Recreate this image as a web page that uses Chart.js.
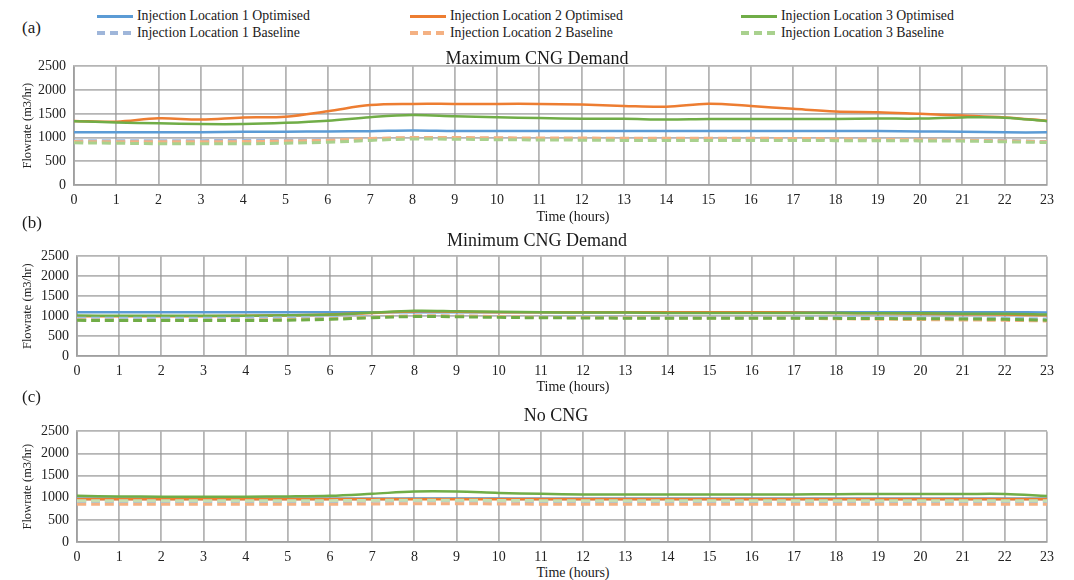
<!DOCTYPE html>
<html>
<head>
<meta charset="utf-8">
<title>Flowrate by injection location</title>
<script src="https://cdn.jsdelivr.net/npm/chart.js@4.4.1/dist/chart.umd.min.js"></script>
<style>
  body {
    margin: 0;
    width: 1074px;
    height: 580px;
    background: #fff;
    position: relative;
    overflow: hidden;
    font-family: "Liberation Serif", "Times New Roman", serif;
    color: #1a1a1a;
  }
  .txt { position: absolute; white-space: nowrap; line-height: 1; z-index: 2; }
  .panel-title { font-size: 18px; transform: translateX(-50%); }
  .tag { font-size: 17px; }
  .xtitle { font-size: 14px; transform: translateX(-50%); }
  canvas { position: absolute; left: 0; }
  #legend { position: absolute; left: 0; top: 0; width: 1074px; height: 45px; z-index: 2; }
  .leg { position: absolute; display: flex; align-items: center; font-size: 13.8px; white-space: nowrap; width: max-content; }
  .swatch { width: 36px; height: 3px; margin-right: 4px; flex: none; }
</style>
</head>
<body>

<div class="txt tag" style="left:22px;top:19px;">(a)</div>
<div class="txt tag" style="left:22px;top:214px;">(b)</div>
<div class="txt tag" style="left:22px;top:388px;">(c)</div>

<div class="txt panel-title" style="left:537px;top:49px;">Maximum CNG Demand</div>
<div class="txt panel-title" style="left:537px;top:231px;">Minimum CNG Demand</div>
<div class="txt panel-title" style="left:556px;top:406px;">No CNG</div>

<div class="txt xtitle" style="left:573px;top:210px;">Time (hours)</div>
<div class="txt xtitle" style="left:573px;top:380px;">Time (hours)</div>
<div class="txt xtitle" style="left:573px;top:566px;">Time (hours)</div>

<div id="legend"></div>

<canvas id="chartMax" width="1074" height="165" style="top:50px;"></canvas>
<canvas id="chartMin" width="1074" height="140" style="top:240px;"></canvas>
<canvas id="chartNone" width="1074" height="150" style="top:415px;"></canvas>

<script>
const hours = ["0", "1", "2", "3", "4", "5", "6", "7", "8", "9", "10", "11",
               "12", "13", "14", "15", "16", "17", "18", "19", "20", "21", "22", "23"];
const yTicks = [0, 500, 1000, 1500, 2000, 2500];

const seriesNames = [
  "Injection Location 1 Optimised",
  "Injection Location 2 Optimised",
  "Injection Location 3 Optimised",
  "Injection Location 1 Baseline",
  "Injection Location 2 Baseline",
  "Injection Location 3 Baseline"
];

// Maximum CNG demand (m3/hr)
const maxOpt1  = [1110, 1110, 1110, 1110, 1120, 1125, 1130, 1135, 1150, 1140, 1140, 1140, 1140, 1140, 1140, 1140, 1140, 1140, 1140, 1140, 1130, 1125, 1110, 1110];
const maxOpt2  = [1350, 1335, 1405, 1380, 1425, 1440, 1555, 1685, 1710, 1710, 1710, 1710, 1695, 1665, 1650, 1715, 1665, 1605, 1550, 1535, 1500, 1465, 1425, 1355];
const maxOpt3  = [1345, 1320, 1300, 1285, 1285, 1310, 1355, 1430, 1475, 1450, 1430, 1410, 1395, 1395, 1380, 1390, 1390, 1390, 1390, 1400, 1400, 1425, 1420, 1345];
const maxBase1 = [930, 935, 935, 935, 940, 945, 955, 975, 990, 990, 985, 980, 980, 980, 980, 980, 980, 980, 975, 970, 960, 950, 940, 915];
const maxBase2 = [915, 910, 910, 910, 915, 925, 945, 980, 1000, 1000, 995, 990, 990, 985, 985, 985, 985, 980, 975, 965, 955, 945, 930, 910];
const maxBase3 = [890, 880, 870, 870, 870, 880, 900, 940, 970, 965, 955, 950, 945, 940, 940, 940, 940, 940, 935, 935, 930, 925, 910, 895];

// Minimum CNG demand (m3/hr)
const minOpt1  = [1100, 1100, 1100, 1100, 1100, 1100, 1100, 1100, 1100, 1100, 1100, 1100, 1100, 1100, 1100, 1100, 1100, 1100, 1100, 1100, 1100, 1100, 1100, 1095];
const minOpt2  = [1000, 1000, 1000, 1000, 1010, 1020, 1040, 1080, 1120, 1110, 1100, 1100, 1100, 1100, 1100, 1100, 1100, 1090, 1080, 1070, 1060, 1050, 1040, 1020];
const minOpt3  = [1015, 1010, 1010, 1010, 1010, 1020, 1040, 1090, 1135, 1125, 1110, 1100, 1090, 1090, 1080, 1080, 1080, 1080, 1080, 1070, 1070, 1060, 1060, 1040];
const minBase1 = [945, 945, 945, 945, 950, 955, 965, 985, 1000, 1000, 990, 985, 980, 975, 975, 975, 975, 975, 970, 965, 960, 950, 945, 930];
const minBase2 = [910, 900, 900, 900, 905, 915, 935, 975, 1010, 1005, 990, 975, 965, 960, 955, 955, 955, 950, 935, 925, 915, 905, 895, 880];
const minBase3 = [895, 890, 890, 890, 890, 900, 920, 960, 990, 985, 970, 960, 955, 950, 950, 950, 950, 950, 945, 940, 935, 930, 920, 900];

// No CNG (m3/hr)
const noneOpt1  = [970, 970, 970, 970, 970, 970, 970, 970, 975, 975, 975, 970, 970, 970, 970, 970, 970, 970, 970, 970, 970, 970, 970, 970];
const noneOpt2  = [965, 965, 965, 965, 965, 965, 965, 965, 965, 965, 965, 965, 965, 965, 965, 965, 965, 965, 965, 965, 965, 965, 965, 965];
const noneOpt3  = [1045, 1030, 1025, 1025, 1025, 1030, 1045, 1090, 1140, 1140, 1110, 1090, 1075, 1075, 1075, 1075, 1075, 1075, 1080, 1085, 1085, 1085, 1085, 1040];
const noneBase1 = [915, 915, 915, 915, 915, 915, 915, 920, 925, 925, 920, 915, 915, 915, 915, 915, 915, 915, 915, 915, 915, 915, 915, 915];
const noneBase2 = [855, 855, 855, 855, 855, 855, 855, 860, 865, 865, 860, 855, 855, 855, 855, 855, 855, 855, 855, 855, 855, 855, 855, 855];
const noneBase3 = [935, 935, 935, 935, 935, 935, 935, 940, 945, 945, 940, 935, 935, 935, 935, 935, 935, 935, 935, 935, 935, 935, 935, 935];

const optColors  = ["#5b9bd5", "#ed7d31", "#70ad47"];
const baseColors = ["#9fb6da", "#f4b183", "#a9d18e"];
const gridColor = "rgba(150,150,150,0.7)";

// legend: two rows (optimised / baseline), three columns (locations)
const legendCols = [97, 410, 741];
const legendRows = [16, 33];
const legendEl = document.getElementById("legend");
seriesNames.forEach((name, i) => {
  const col = i % 3;
  const row = Math.floor(i / 3);
  const item = document.createElement("div");
  item.className = "leg";
  item.style.left = legendCols[col] + "px";
  item.style.top = (legendRows[row] - 8) + "px";
  item.style.height = "16px";
  const sw = document.createElement("div");
  sw.className = "swatch";
  if (row === 0) {
    sw.style.background = optColors[col];
  } else {
    sw.style.height = "4px";
    sw.style.background = "repeating-linear-gradient(90deg," + baseColors[col] + " 0 8px, transparent 8px 13px)";
  }
  item.appendChild(sw);
  const label = document.createElement("span");
  label.textContent = name;
  item.appendChild(label);
  legendEl.appendChild(item);
});

function makeDatasets(series, baseCols) {
  return series.map((values, i) => {
    const isBase = i >= 3;
    const color = isBase ? baseCols[i - 3] : optColors[i];
    return {
      label: seriesNames[i],
      data: values,
      borderColor: color,
      backgroundColor: color,
      borderWidth: isBase ? 3 : 2.5,
      borderDash: isBase ? [9, 5] : [],
      pointRadius: 0,
      tension: 0.35,
      fill: false,
      order: 6 - i // later series sit on top
    };
  });
}

function makeChart(id, series, opts) {
  const ctx = document.getElementById(id).getContext("2d");
  return new Chart(ctx, {
    type: "line",
    data: {
      labels: hours,
      datasets: makeDatasets(series, opts.baseCols || baseColors)
    },
    options: {
      responsive: false,
      animation: false,
      layout: {
        padding: { top: opts.padTop, right: 27, left: 0, bottom: 0 }
      },
      plugins: {
        legend: { display: false },
        tooltip: { enabled: false },
        title: { display: false }
      },
      scales: {
        x: {
          type: "category",
          offset: false,
          grid: { color: gridColor, lineWidth: 1.8, drawTicks: false },
          border: { color: gridColor, width: 1.8 },
          ticks: {
            color: "#222",
            padding: 7,
            maxRotation: 0,
            autoSkip: false,
            font: { family: "Liberation Serif", size: 14 }
          },
          afterFit: (scale) => { scale.height = opts.xHeight; }
        },
        y: {
          min: 0,
          max: 2500,
          afterBuildTicks: (scale) => { scale.ticks = yTicks.map((v) => ({ value: v })); },
          grid: { color: gridColor, lineWidth: 1.8, drawTicks: false },
          border: { color: gridColor, width: 1.8 },
          ticks: {
            color: "#222",
            padding: 8,
            callback: (value) => String(value),
            font: { family: "Liberation Serif", size: 14 }
          },
          title: {
            display: true,
            text: "Flowrate (m3/hr)",
            color: "#222",
            padding: { top: 20, bottom: 0 },
            font: { family: "Liberation Serif", size: 12.5 }
          },
          afterFit: (scale) => { scale.width = opts.yWidth; }
        }
      }
    }
  });
}

makeChart("chartMax",
  [maxOpt1, maxOpt2, maxOpt3, maxBase1, maxBase2, maxBase3],
  { padTop: 15, xHeight: 30, yWidth: 74 });

makeChart("chartMin",
  [minOpt1, minOpt2, minOpt3, minBase1, minBase2, minBase3],
  { padTop: 13, xHeight: 24, yWidth: 77, baseCols: ["#9dc3e6", "#f4b183", "#70ad47"] });

makeChart("chartNone",
  [noneOpt1, noneOpt2, noneOpt3, noneBase1, noneBase2, noneBase3],
  { padTop: 12, xHeight: 23, yWidth: 77, baseCols: ["#9dc3e6", "#f4b183", "#c5e0b4"] });
</script>
</body>
</html>
